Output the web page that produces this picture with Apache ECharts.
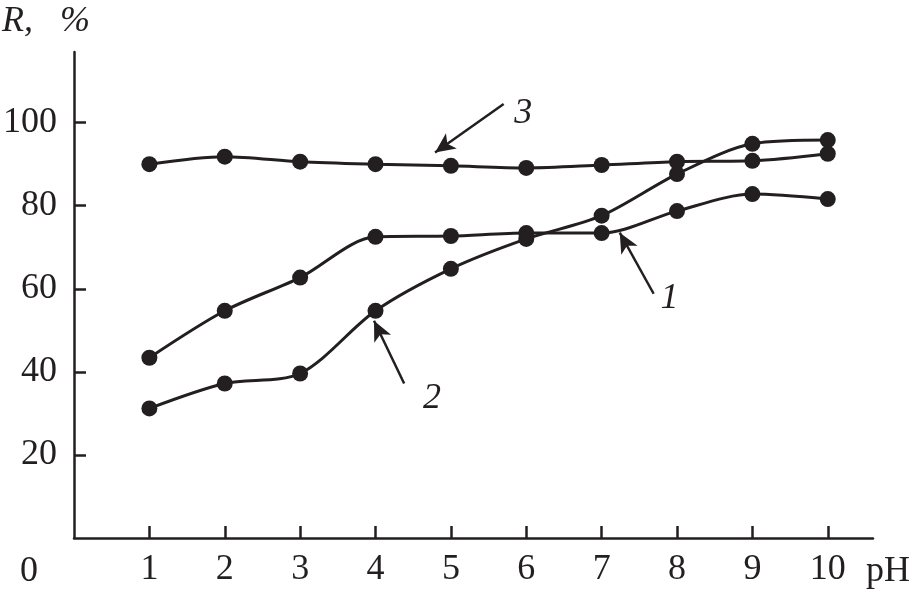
<!DOCTYPE html>
<html><head><meta charset="utf-8">
<script src="https://cdn.jsdelivr.net/npm/echarts@6/dist/echarts.min.js"></script>
<style>html,body{margin:0;padding:0;background:#fff}#c{width:921px;height:598px}</style>
</head><body><div id="c"></div>
<script>
const pH = [1, 2, 3, 4, 5, 6, 7, 8, 9, 10];
const curve1 = [43.4, 54.7, 62.7, 72.5, 72.7, 73.4, 73.4, 78.7, 82.8, 81.6];
const curve2 = [31.2, 37.2, 39.6, 54.7, 64.8, 72.0, 77.6, 87.6, 94.9, 95.8];
const curve3 = [90.0, 91.8, 90.6, 90.0, 89.6, 89.1, 89.8, 90.6, 90.8, 92.5];
const xTicks = [1, 2, 3, 4, 5, 6, 7, 8, 9, 10];
const yTicks = [20, 40, 60, 80, 100];
// annotation arrows: [tailX, tailY, headX, headY], labels: [x, y, text]
const arrows = [[5.70, 104.5, 4.79, 92.8], [7.69, 58.8, 7.24, 73.5], [4.38, 37.2, 3.98, 52.3]];
const curveLabels = [[5.96, 102.1, '3'], [7.90, 57.6, '1'], [4.75, 33.6, '2']];

const C = '#231f20';
const FONT = 'Liberation Serif';
function mk(vals) { return pH.map((x, i) => [x, vals[i]]); }
function line(name, vals) {
  return {
    name, type: 'line', data: mk(vals), smooth: 0.3,
    symbol: 'circle', symbolSize: 16,
    lineStyle: { color: C, width: 3 }, itemStyle: { color: C },
    z: 3
  };
}
const chart = echarts.init(document.getElementById('c'));
const series = [line('1', curve1), line('2', curve2), line('3', curve3)];
series.push({
  type: 'line', data: [], silent: true,
  markLine: {
    silent: true, animation: false,
    symbol: ['none', 'arrow'], symbolSize: [14, 20],
    lineStyle: { color: C, width: 2.5, type: 'solid' },
    label: { show: false },
    data: arrows.map(a => [{ coord: [a[0], a[1]] }, { coord: [a[2], a[3]] }])
  },
  markPoint: {
    silent: true, animation: false, symbol: 'circle', symbolSize: 0,
    label: { show: true, position: 'inside', fontFamily: FONT, fontStyle: 'italic', fontSize: 36, color: C, formatter: p => p.name },
    data: curveLabels.map(l => ({ name: l[2], coord: [l[0], l[1]] }))
  }
});
chart.setOption({
  animation: false,
  grid: { left: 72, right: 48, top: 52, bottom: 60 },
  xAxis: {
    type: 'value', min: 0, max: 10.6, interval: 1,
    axisLine: { lineStyle: { color: C, width: 2.5 } },
    axisTick: { inside: true, length: 12, lineStyle: { color: C, width: 2.5 }, customValues: xTicks },
    axisLabel: { color: C, fontFamily: FONT, fontSize: 36, margin: 14, customValues: xTicks },
    splitLine: { show: false }
  },
  yAxis: {
    type: 'value', min: 0, max: 117, interval: 20,
    axisLine: { show: true, lineStyle: { color: C, width: 2.5 } },
    axisTick: { show: true, inside: true, length: 12, lineStyle: { color: C, width: 2.5 }, customValues: yTicks },
    axisLabel: { color: C, fontFamily: FONT, fontSize: 36, margin: 17, customValues: yTicks },
    splitLine: { show: false }
  },
  graphic: [
    { type: 'text', left: 20, top: 554, style: { text: '0', font: '36px "Liberation Serif"', fill: C } },
    { type: 'text', left: 866, top: 554, style: { text: 'pH', font: '36px "Liberation Serif"', fill: C } },
    { type: 'text', left: 2, top: 4, style: { text: 'R,   %', font: 'italic 36px "Liberation Serif"', fill: C } }
  ],
  series
});
</script></body></html>
